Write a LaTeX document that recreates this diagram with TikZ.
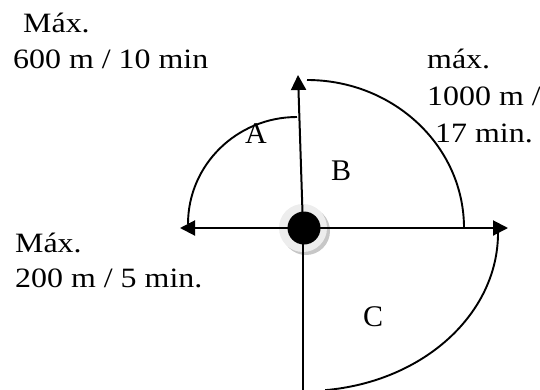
\documentclass[tikz,border=0pt]{standalone}
\usepackage{fontspec}
\setmainfont{Liberation Serif}
\newfontfamily\annfont[FakeStretch=1.14]{Liberation Serif}
\usetikzlibrary{arrows.meta}
\tikzset{
  axisline/.style={line width=2pt, black},
  arcline/.style={line width=1.9pt, black},
  tip/.style={-{Triangle[length=15pt,width=15pt]}},
  ann/.style={font=\annfont\fontsize{28}{32}\selectfont, anchor=base west, inner sep=0pt},
  zone/.style={font=\fontsize{30}{34}\selectfont, anchor=base, inner sep=0pt},
}
\begin{document}
\begin{tikzpicture}[x=1pt,y=-1pt]
\useasboundingbox (0,0) rectangle (540,389);
\clip (0,0) rectangle (540,389);

\coordinate (O) at (303,228);
\coordinate (L) at (180,228);
\coordinate (R) at (508,228);
\coordinate (T) at (298,75);
\coordinate (Bt) at (303,392);

% halo behind the centre
\node[circle, fill=black!22, minimum size=48pt, inner sep=0pt] (shadow) at (306,231) {};
\node[circle, fill=black!7, minimum size=48pt, inner sep=0pt] (halo) at (303,228) {};

% axes
\draw[axisline, {Triangle[length=15pt,width=15pt]}-{Triangle[length=15pt,width=15pt]}] (L) -- (R);
\draw[axisline, tip] (O) -- (T);
\draw[axisline] (O) -- (Bt);

% arcs
\draw[arcline] (297,117) arc[start angle=270, end angle=180, x radius=109, y radius=107];
\draw[arcline] (307,80) arc[start angle=270, end angle=360, x radius=157, y radius=148];
\draw[arcline] (498,233) arc[start angle=0, end angle=84, x radius=193, y radius=158];

% centre dot
\node[circle, fill=black, minimum size=33pt, inner sep=0pt] (dot) at (304,228) {};

% annotations
\node[ann] (t1a) at (23,32) {Máx.};
\node[ann] (t1b) at (13,68) {600 m / 10 min};
\node[ann] (t2a) at (427,68) {máx.};
\node[ann] (t2b) at (427,105) {1000 m /};
\node[ann] (t2c) at (435,142) {17 min.};
\node[ann] (t3a) at (15,252) {Máx.};
\node[ann] (t3b) at (15,287) {200 m / 5 min.};

% zone labels
\node[zone] (A) at (256,143) {A};
\node[zone] (B) at (341,180) {B};
\node[zone] (C) at (373,326) {C};
\end{tikzpicture}
\end{document}
